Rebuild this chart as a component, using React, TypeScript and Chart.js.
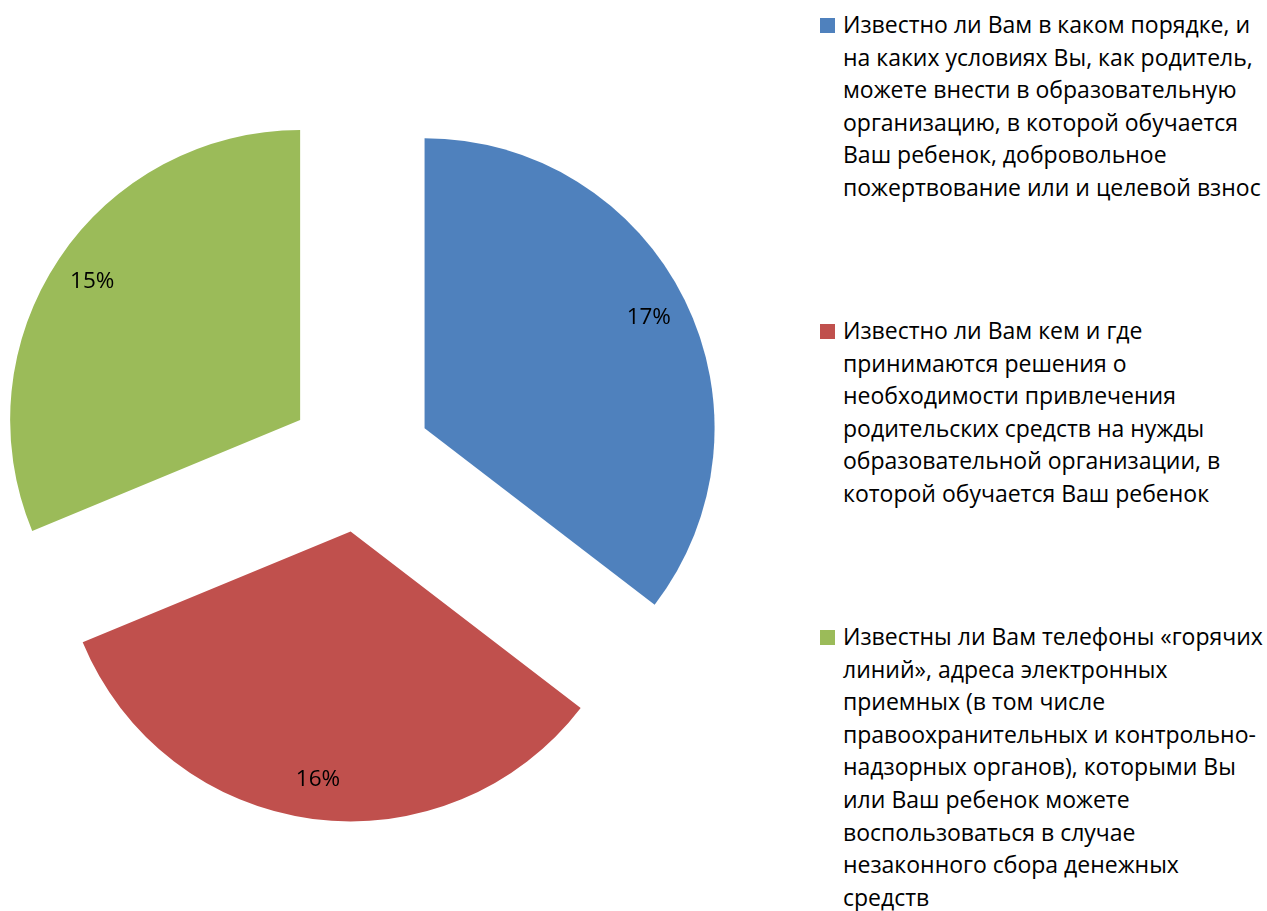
import React, { useEffect, useRef } from "react";
import { Chart, registerables } from "chart.js";

Chart.register(...registerables);

const categories = [
  "Известно ли Вам в каком порядке, и на каких условиях Вы, как родитель, можете внести в образовательную организацию, в которой обучается Ваш ребенок, добровольное пожертвование или и целевой взнос",
  "Известно ли Вам кем и где принимаются решения о необходимости привлечения родительских средств на нужды образовательной организации, в которой обучается Ваш ребенок",
  "Известны ли Вам телефоны «горячих линий», адреса электронных приемных (в том числе правоохранительных и контрольно-надзорных органов), которыми Вы или Ваш ребенок можете воспользоваться в случае незаконного сбора денежных средств",
];

const legendLines = [
  [
    "Известно ли Вам в каком порядке, и",
    "на каких условиях Вы, как родитель,",
    "можете внести в образовательную",
    "организацию, в которой обучается",
    "Ваш ребенок, добровольное",
    "пожертвование или и целевой взнос",
  ],
  [
    "Известно ли Вам кем и где",
    "принимаются решения о",
    "необходимости привлечения",
    "родительских средств на нужды",
    "образовательной организации, в",
    "которой обучается Ваш ребенок",
  ],
  [
    "Известны ли Вам телефоны «горячих",
    "линий», адреса электронных",
    "приемных (в том числе",
    "правоохранительных и контрольно-",
    "надзорных органов), которыми Вы",
    "или Ваш ребенок можете",
    "воспользоваться в случае",
    "незаконного сбора денежных",
    "средств",
  ],
];

const values = [17, 16, 15];
const colors = ["#4F81BD", "#C0504D", "#9BBB59"];

const FONT = "'Open Sans', sans-serif";
const EXPLODE = 72;
const LABEL_R = 250;

const explodePlugin = {
  id: "explodeSlices",
  beforeDatasetDraw(chart: any, args: any) {
    const ctx = chart.ctx;
    args.meta.data.forEach((arc: any) => {
      const mid = (arc.startAngle + arc.endAngle) / 2;
      ctx.save();
      ctx.translate(Math.cos(mid) * EXPLODE, Math.sin(mid) * EXPLODE);
      arc.draw(ctx);
      ctx.restore();
    });
    return false;
  },
};

const labelPlugin = {
  id: "sliceLabels",
  afterDatasetsDraw(chart: any) {
    const ctx = chart.ctx;
    const meta = chart.getDatasetMeta(0);
    ctx.save();
    ctx.font = `22.5px ${FONT}`;
    ctx.fillStyle = "#000";
    ctx.textAlign = "center";
    ctx.textBaseline = "middle";
    meta.data.forEach((arc: any, i: number) => {
      const mid = (arc.startAngle + arc.endAngle) / 2;
      const r = EXPLODE + LABEL_R;
      ctx.fillText(`${values[i]}%`, arc.x + Math.cos(mid) * r, arc.y + Math.sin(mid) * r);
    });
    ctx.restore();
  },
};

export default function App() {
  const canvasRef = useRef<HTMLCanvasElement | null>(null);

  useEffect(() => {
    if (!canvasRef.current) return;
    const chart = new Chart(canvasRef.current, {
      type: "pie",
      data: {
        labels: categories,
        datasets: [
          {
            data: values,
            backgroundColor: colors,
            borderWidth: 0,
            radius: 290,
          } as any,
        ],
      },
      options: {
        animation: false,
        responsive: true,
        maintainAspectRatio: false,
        events: [],
        layout: { padding: { top: 9 } },
        plugins: {
          legend: { display: false },
          tooltip: { enabled: false },
        },
      },
      plugins: [explodePlugin, labelPlugin],
    });
    return () => chart.destroy();
  }, []);

  const groupTops = [8, 314, 620];

  return (
    <div
      style={{
        position: "fixed",
        left: 0,
        top: 0,
        width: 1267,
        height: 911,
        background: "#fff",
        overflow: "hidden",
        fontFamily: FONT,
      }}
    >
      <div style={{ position: "absolute", left: 0, top: 0, width: 720, height: 911 }}>
        <canvas ref={canvasRef} />
      </div>
      {legendLines.map((lines, i) => (
        <div
          key={i}
          style={{ position: "absolute", left: 820, top: groupTops[i], width: 447 }}
        >
          <div
            style={{
              position: "absolute",
              left: 0,
              top: 10,
              width: 15,
              height: 15,
              background: colors[i],
            }}
          />
          <div
            style={{
              position: "absolute",
              left: 23,
              top: 0,
              fontSize: 23,
              lineHeight: "32.6px",
              color: "#000",
              whiteSpace: "nowrap",
            }}
          >
            {lines.map((l, j) => (
              <div key={j}>{l}</div>
            ))}
          </div>
        </div>
      ))}
    </div>
  );
}
